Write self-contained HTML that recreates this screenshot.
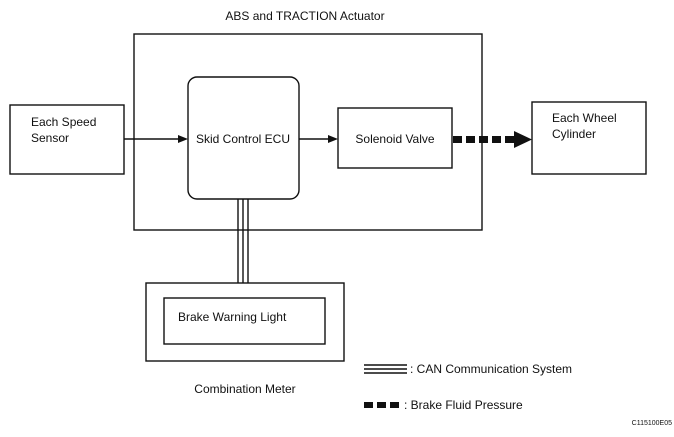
<!DOCTYPE html>
<html><head><meta charset="utf-8"><style>
html,body{margin:0;padding:0;background:#fff;}
svg{display:block;}
text{font-family:"Liberation Sans",Arial,sans-serif;font-size:12px;fill:#111;}
</style></head><body>
<svg width="674" height="437" viewBox="0 0 674 437" xmlns="http://www.w3.org/2000/svg">
<g fill="none" stroke="#111" stroke-width="1.4">
<rect x="134" y="34" width="348" height="196"/>
<rect x="188" y="77" width="111" height="122" rx="9"/>
<rect x="10" y="105" width="114" height="69"/>
<rect x="338" y="108" width="114" height="60"/>
<rect x="532" y="102" width="114" height="72"/>
<rect x="146" y="283" width="198" height="78"/>
<rect x="164" y="298" width="161" height="46"/>
<line x1="124" y1="139" x2="180" y2="139"/>
<line x1="299" y1="139" x2="330" y2="139"/>
<line x1="238" y1="199" x2="238" y2="283"/>
<line x1="243" y1="199" x2="243" y2="283"/>
<line x1="248" y1="199" x2="248" y2="283"/>
<line x1="364" y1="365" x2="407" y2="365"/>
<line x1="364" y1="369" x2="407" y2="369"/>
<line x1="364" y1="373" x2="407" y2="373"/>
</g>
<polygon points="188,139 178,135 178,143" fill="#111"/>
<polygon points="338,139 328,135 328,143" fill="#111"/>
<g fill="#111">
<rect x="453" y="136" width="9" height="7"/>
<rect x="466" y="136" width="9" height="7"/>
<rect x="479" y="136" width="9" height="7"/>
<rect x="492" y="136" width="9" height="7"/>
<rect x="505" y="136" width="10" height="7"/>
<polygon points="514,131 532,139.5 514,148"/>
<rect x="364" y="402" width="9" height="6"/>
<rect x="377" y="402" width="9" height="6"/>
<rect x="390" y="402" width="9" height="6"/>
</g>
<text x="305" y="20" text-anchor="middle">ABS and TRACTION Actuator</text>
<text x="31" y="126">Each Speed</text>
<text x="31" y="142">Sensor</text>
<text x="243" y="143" text-anchor="middle">Skid Control ECU</text>
<text x="395" y="143" text-anchor="middle">Solenoid Valve</text>
<text x="552" y="122">Each Wheel</text>
<text x="552" y="138">Cylinder</text>
<text x="178" y="321">Brake Warning Light</text>
<text x="245" y="393" text-anchor="middle">Combination Meter</text>
<text x="410" y="373">: CAN Communication System</text>
<text x="404" y="409">:  Brake Fluid Pressure</text>
<text x="672" y="425" text-anchor="end" style="font-size:7px">C115100E05</text>
</svg>
</body></html>
